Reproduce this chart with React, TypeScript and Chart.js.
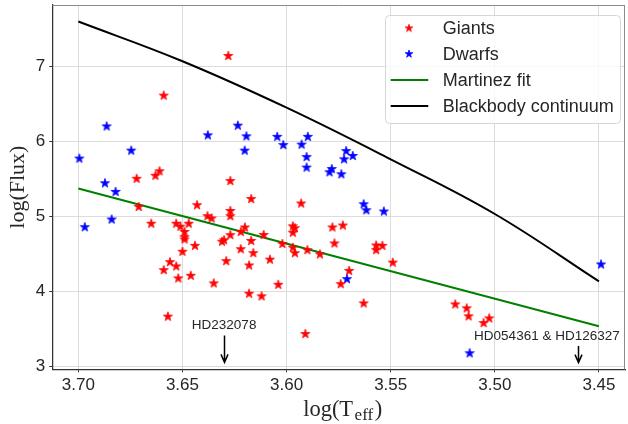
import React, { useEffect, useRef } from 'react';
import { Chart, registerables } from 'chart.js';

Chart.register(...registerables);

// ---- data ----
const giantsX = [
  3.628, 3.659, 3.672, 3.663, 3.661, 3.671, 3.665, 3.643, 3.653, 3.651,
  3.647, 3.627, 3.617, 3.593, 3.627, 3.627, 3.638, 3.636, 3.620, 3.597,
  3.596, 3.578, 3.573, 3.577, 3.557, 3.554, 3.557, 3.549, 3.570, 3.574,
  3.584, 3.657, 3.659, 3.656, 3.653, 3.652, 3.646, 3.650, 3.644, 3.649,
  3.649, 3.649, 3.627, 3.631, 3.630, 3.622, 3.611, 3.617, 3.622, 3.616,
  3.629, 3.608, 3.618, 3.602, 3.597, 3.597, 3.596, 3.590, 3.635, 3.604,
  3.618, 3.612, 3.591, 3.563, 3.519, 3.5135, 3.5126, 3.5054, 3.5027,
];
const giantsY = [
  7.14, 6.61, 5.50, 5.54, 5.60, 5.125, 4.90, 5.147, 4.90, 4.86,
  4.90, 5.47, 5.23, 5.17, 5.07, 5.00, 5.00, 4.97, 4.85, 4.865,
  4.84, 4.85, 4.876, 4.636, 4.61, 4.605, 4.547, 4.38, 4.27, 4.093,
  4.49, 3.659, 4.28, 4.387, 4.33, 4.17, 4.205, 4.525, 4.605, 4.72,
  4.69, 4.79, 4.747, 4.66, 4.68, 4.79, 4.75, 4.67, 4.56, 4.507,
  4.40, 4.42, 4.343, 4.63, 4.78, 4.58, 4.507, 4.547, 4.103, 4.085,
  3.965, 3.93, 3.427, 3.836, 3.823, 3.77, 3.663, 3.573, 3.636,
];
const dwarfsX = [
  3.6864, 3.6746, 3.6995, 3.6872, 3.6821, 3.684, 3.6969, 3.6234, 3.6378, 3.6193,
  3.6201, 3.6045, 3.6016, 3.5928, 3.5898, 3.5904, 3.5904, 3.5714, 3.5682, 3.5724,
  3.5783, 3.5794, 3.5737, 3.563, 3.5617, 3.5533, 3.571, 3.5121, 3.449,
];
const dwarfsY = [
  6.20, 5.876, 5.77, 5.44, 5.325, 4.956, 4.853, 6.21, 6.08, 6.067,
  5.876, 6.06, 5.95, 5.956, 6.06, 5.79, 5.65, 5.87, 5.805, 5.76,
  5.63, 5.587, 5.56, 5.16, 5.08, 5.063, 4.16, 3.17, 4.356,
];
const fitX = [3.70, 3.45];
const fitY = [5.37, 3.53];
const bbX = [3.70, 3.65, 3.60, 3.55, 3.50, 3.45];
const bbY = [7.60, 7.07, 6.45, 5.76, 5.03, 4.13];

const xTicks = [3.70, 3.65, 3.60, 3.55, 3.50, 3.45];
const yTicks = [3, 4, 5, 6, 7];
const seriesLabels = ['Giants', 'Dwarfs', 'Martinez fit', 'Blackbody continuum'];
const annotLabels = ['HD232078', 'HD054361 & HD126327'];
const annotArrowX = [3.63, 3.46];
const annotTextX = [3.63, 3.475];
const annotTextY = [3.543, 3.396];
const annotArrowTop = [3.409, 3.267];
const annotArrowBottom = [3.049, 3.045];

const SANS = '"Liberation Sans", Arial, sans-serif';
const SERIF = '"Liberation Serif", "Times New Roman", serif';
const TEXT = '#262626';

function makeStar(color: string, R: number) {
  const size = 14;
  const c = document.createElement('canvas');
  c.width = size;
  c.height = size;
  const ctx = c.getContext('2d')!;
  const cx = size / 2;
  const cy = size / 2;
  const r = R * 0.381966;
  ctx.beginPath();
  for (let i = 0; i < 10; i++) {
    const a = -Math.PI / 2 + (i * Math.PI) / 5;
    const rad = i % 2 === 0 ? R : r;
    const px = cx + rad * Math.cos(a);
    const py = cy + rad * Math.sin(a);
    if (i === 0) ctx.moveTo(px, py);
    else ctx.lineTo(px, py);
  }
  ctx.closePath();
  ctx.fillStyle = color;
  ctx.fill();
  ctx.strokeStyle = color;
  ctx.lineWidth = 0.8;
  ctx.stroke();
  return c;
}

export default function App() {
  const ref = useRef<HTMLCanvasElement | null>(null);

  useEffect(() => {
    const canvas = ref.current;
    if (!canvas) return;
    const redStar = makeStar('#ff0000', 4.8);
    const blueStar = makeStar('#0000ff', 4.8);
    const redStarSmall = makeStar('#ff0000', 4.0);
    const blueStarSmall = makeStar('#0000ff', 4.0);

    const overlay = {
      id: 'overlay',
      afterDraw(chart: any) {
        const ctx = chart.ctx as CanvasRenderingContext2D;
        const xs = chart.scales.x;
        const ys = chart.scales.y;
        const area = chart.chartArea;
        ctx.save();

        // top and right spines
        ctx.strokeStyle = '#8c8c8c';
        ctx.lineWidth = 1;
        ctx.beginPath();
        ctx.moveTo(area.left, area.top + 0.5);
        ctx.lineTo(area.right, area.top + 0.5);
        ctx.moveTo(area.right - 0.5, area.top);
        ctx.lineTo(area.right - 0.5, area.bottom);
        ctx.stroke();

        // annotations
        ctx.fillStyle = TEXT;
        ctx.font = `13.5px ${SANS}`;
        ctx.textAlign = 'center';
        ctx.textBaseline = 'middle';
        for (let i = 0; i < annotLabels.length; i++) {
          const tx = xs.getPixelForValue(annotTextX[i]);
          const ty = ys.getPixelForValue(annotTextY[i]);
          ctx.fillText(annotLabels[i], tx, ty);
          const ax = Math.round(xs.getPixelForValue(annotArrowX[i])) + 0.5;
          const a0 = ys.getPixelForValue(annotArrowTop[i]);
          const a1 = ys.getPixelForValue(annotArrowBottom[i]);
          ctx.strokeStyle = '#000';
          ctx.lineWidth = 1.5;
          ctx.beginPath();
          ctx.moveTo(ax, a0);
          ctx.lineTo(ax, a1);
          ctx.moveTo(ax - 3.5, a1 - 8);
          ctx.lineTo(ax, a1);
          ctx.lineTo(ax + 3.5, a1 - 8);
          ctx.stroke();
        }

        // legend
        const lx = 385, ly = 15, lw = 235, lh = 108;
        ctx.beginPath();
        ctx.roundRect(lx + 0.5, ly + 0.5, lw, lh, 4);
        ctx.fillStyle = 'rgba(255,255,255,0.8)';
        ctx.fill();
        ctx.strokeStyle = '#d6d6d6';
        ctx.lineWidth = 1;
        ctx.stroke();
        const rows = [28.3, 54, 80, 106];
        ctx.font = `18px ${SANS}`;
        ctx.textAlign = 'left';
        ctx.textBaseline = 'middle';
        for (let i = 0; i < seriesLabels.length; i++) {
          const yy = rows[i];
          if (i === 0) ctx.drawImage(redStarSmall, 409 - 7, yy - 7);
          else if (i === 1) ctx.drawImage(blueStarSmall, 409 - 7, yy - 7);
          else {
            ctx.strokeStyle = i === 2 ? '#008000' : '#000000';
            ctx.lineWidth = 2;
            ctx.beginPath();
            ctx.moveTo(390.7, yy);
            ctx.lineTo(428.3, yy);
            ctx.stroke();
          }
          ctx.fillStyle = TEXT;
          ctx.fillText(seriesLabels[i], 442.7, yy + 1);
        }

        // axis titles
        ctx.fillStyle = TEXT;
        const mainFont = `22.5px ${SERIF}`;
        const subFont = `17px ${SERIF}`;
        ctx.textBaseline = 'alphabetic';
        ctx.font = mainFont;
        const p1 = 'log(T';
        const w1 = ctx.measureText(p1).width;
        const p3 = ')';
        const w3 = ctx.measureText(p3).width;
        ctx.font = subFont;
        const p2 = 'eff';
        const w2 = ctx.measureText(p2).width;
        const gap = 1.5;
        const total = w1 + gap + w2 + gap + w3;
        const cxT = (area.left + area.right) / 2 + 4;
        let sx = cxT - total / 2;
        const base = 416;
        ctx.textAlign = 'left';
        ctx.font = mainFont;
        ctx.fillText(p1, sx, base);
        sx += w1 + gap;
        ctx.font = subFont;
        ctx.fillText(p2, sx, base + 4);
        sx += w2 + gap;
        ctx.font = mainFont;
        ctx.fillText(p3, sx, base);

        ctx.save();
        ctx.translate(18, (area.top + area.bottom) / 2);
        ctx.rotate(-Math.PI / 2);
        ctx.textAlign = 'center';
        ctx.textBaseline = 'middle';
        ctx.font = `22px ${SERIF}`;
        ctx.fillText('log(Flux)', 0, 0);
        ctx.restore();

        ctx.restore();
      },
    };

    const zeroPad = (s: any) => {
      s.paddingTop = 0;
      s.paddingBottom = 0;
      s.paddingLeft = 0;
      s.paddingRight = 0;
    };

    const chart = new Chart(canvas, {
      type: 'scatter',
      data: {
        datasets: [
          {
            label: seriesLabels[0],
            data: giantsX.map((x, i) => ({ x, y: giantsY[i] })),
            pointStyle: redStar as any,
            pointRadius: 5,
            showLine: false,
            order: 1,
          },
          {
            label: seriesLabels[1],
            data: dwarfsX.map((x, i) => ({ x, y: dwarfsY[i] })),
            pointStyle: blueStar as any,
            pointRadius: 5,
            showLine: false,
            order: 1,
          },
          {
            label: seriesLabels[2],
            data: fitX.map((x, i) => ({ x, y: fitY[i] })),
            showLine: true,
            borderColor: '#008000',
            borderWidth: 2,
            pointRadius: 0,
            order: 2,
          },
          {
            label: seriesLabels[3],
            data: bbX.map((x, i) => ({ x, y: bbY[i] })),
            showLine: true,
            borderColor: '#000000',
            borderWidth: 2,
            pointRadius: 0,
            tension: 0.4,
            order: 2,
          },
        ],
      },
      options: {
        animation: false,
        responsive: false,
        maintainAspectRatio: false,
        devicePixelRatio: 1,
        layout: { autoPadding: false, padding: { top: 5, right: 3, left: 0, bottom: 0 } },
        plugins: {
          legend: { display: false },
          tooltip: { enabled: false },
        },
        scales: {
          x: {
            type: 'linear',
            reverse: true,
            min: 3.4375,
            max: 3.7125,
            afterBuildTicks: (s: any) => {
              s.ticks = xTicks.map((v) => ({ value: v }));
            },
            afterFit: (s: any) => {
              s.height = 54.7;
              zeroPad(s);
            },
            ticks: {
              font: { family: SANS, size: 17 },
              color: TEXT,
              padding: 3,
              maxRotation: 0,
              autoSkip: false,
              callback: (v: any) => Number(v).toFixed(2),
            },
            grid: {
              color: '#dcdcdc',
              lineWidth: 1,
              drawTicks: true,
              tickLength: 3,
              tickColor: '#333333',
            },
            border: { color: '#333333', width: 1.25 },
          },
          y: {
            type: 'linear',
            min: 2.956,
            max: 7.821,
            afterBuildTicks: (s: any) => {
              s.ticks = yTicks.map((v) => ({ value: v }));
            },
            afterFit: (s: any) => {
              s.width = 52.3;
              zeroPad(s);
            },
            ticks: {
              font: { family: SANS, size: 17 },
              color: TEXT,
              padding: 4,
              autoSkip: false,
              callback: (v: any) => String(v),
            },
            grid: {
              color: '#dcdcdc',
              lineWidth: 1,
              drawTicks: true,
              tickLength: 3,
              tickColor: '#333333',
            },
            border: { color: '#333333', width: 1.25 },
          },
        },
      },
      plugins: [overlay],
    } as any);

    return () => {
      chart.destroy();
    };
  }, []);

  return (
    <div style={{ position: 'absolute', left: 0, top: 0, width: 628, height: 424, background: '#fff' }}>
      <canvas ref={ref} width={628} height={424} style={{ width: 628, height: 424, display: 'block' }} />
    </div>
  );
}
